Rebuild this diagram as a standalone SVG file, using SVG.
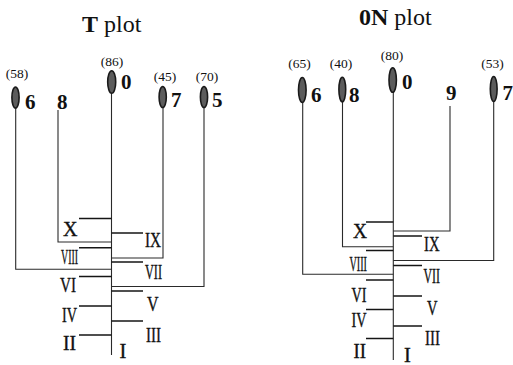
<svg xmlns="http://www.w3.org/2000/svg" width="513" height="365" viewBox="0 0 513 365">
<defs>
<style>
.bg{fill:#ffffff}
.title{font-family:"Liberation Serif","Times New Roman",serif;font-size:24px;fill:#111}
.b{font-weight:bold}
.pct{font-family:"Liberation Serif","Times New Roman",serif;font-size:13.5px;fill:#111;text-anchor:middle}
.num{font-family:"Liberation Serif","Times New Roman",serif;font-size:21px;font-weight:bold;fill:#111}
.rom{font-family:"Liberation Serif","Times New Roman",serif;font-size:20.5px;fill:#111;stroke:#111;stroke-width:0.35}
.dot{fill:#5c5c5c;stroke:#1a1a1a;stroke-width:1.6}
.con{fill:none;stroke:#2a2a2a;stroke-width:1.1}
.tick{fill:none;stroke:#151515;stroke-width:1.5}
</style>
</defs>
<rect class="bg" x="0" y="0" width="513" height="365"/>

<!-- titles -->
<text class="title" x="82" y="32"><tspan class="b">T</tspan> plot</text>
<text class="title" x="359" y="25"><tspan class="b">0N</tspan> plot</text>

<!-- connectors -->
<g id="connectors">
  <!-- left plot -->
  <path class="con" d="M111.5,93 V355"/>
  <path class="con" d="M15.7,108 V269.3 H111.5"/>
  <path class="con" d="M58,110 V242 H111.5"/>
  <path class="con" d="M163,107.5 V258 H111.5"/>
  <path class="con" d="M204,107.5 V286.5 H111.5"/>
  <!-- right plot -->
  <path class="con" d="M393.3,92 V360"/>
  <path class="con" d="M302.7,103 V274.3 H393.3"/>
  <path class="con" d="M342.5,102 V246.7 H393.3"/>
  <path class="con" d="M450,106 V231 H393.3"/>
  <path class="con" d="M493.7,102 V260.5 H393.3"/>
</g>

<!-- left plot nodes -->
<g id="T-6">
  <text class="pct" x="17" y="78">(58)</text>
  <ellipse class="dot" cx="15.5" cy="97.5" rx="3.6" ry="10.5"/>
  <text class="num" x="25" y="109">6</text>
</g>
<g id="T-8">
  <text class="num" x="57" y="109">8</text>
</g>
<g id="T-0">
  <text class="pct" x="112" y="66">(86)</text>
  <ellipse class="dot" cx="111.7" cy="82" rx="4" ry="11.3"/>
  <text class="num" x="121" y="89">0</text>
</g>
<g id="T-7">
  <text class="pct" x="165" y="81">(45)</text>
  <ellipse class="dot" cx="162.7" cy="97" rx="3.6" ry="10.5"/>
  <text class="num" x="171" y="106.5">7</text>
</g>
<g id="T-5">
  <text class="pct" x="207" y="81">(70)</text>
  <ellipse class="dot" cx="204" cy="97" rx="3.6" ry="10.5"/>
  <text class="num" x="212" y="106.5">5</text>
</g>

<!-- left plot roman ticks -->
<g id="T-X"><path class="tick" d="M79,218.5 H111.5"/><text class="rom" x="63" y="236" textLength="14.5" lengthAdjust="spacingAndGlyphs">X</text></g>
<g id="T-IX"><path class="tick" d="M111.5,233 H143"/><text class="rom" x="145" y="247" textLength="16" lengthAdjust="spacingAndGlyphs">IX</text></g>
<g id="T-VIII"><path class="tick" d="M79,247.7 H111.5"/><text class="rom" x="61" y="264" textLength="17" lengthAdjust="spacingAndGlyphs">VIII</text></g>
<g id="T-VII"><path class="tick" d="M111.5,262 H143"/><text class="rom" x="145" y="279" textLength="17" lengthAdjust="spacingAndGlyphs">VII</text></g>
<g id="T-VI"><path class="tick" d="M79,276.5 H111.5"/><text class="rom" x="60" y="292" textLength="16" lengthAdjust="spacingAndGlyphs">VI</text></g>
<g id="T-V"><path class="tick" d="M111.5,291 H143"/><text class="rom" x="147" y="311" textLength="11.5" lengthAdjust="spacingAndGlyphs">V</text></g>
<g id="T-IV"><path class="tick" d="M79,306 H111.5"/><text class="rom" x="62" y="322" textLength="15" lengthAdjust="spacingAndGlyphs">IV</text></g>
<g id="T-III"><path class="tick" d="M111.5,321 H143"/><text class="rom" x="146" y="342" textLength="15" lengthAdjust="spacingAndGlyphs">III</text></g>
<g id="T-II"><path class="tick" d="M79,335 H111.5"/><text class="rom" x="63" y="350" textLength="13" lengthAdjust="spacingAndGlyphs">II</text></g>
<g id="T-I"><text class="rom" x="119.5" y="358">I</text></g>

<!-- right plot nodes -->
<g id="N-6">
  <text class="pct" x="299.5" y="68">(65)</text>
  <ellipse class="dot" cx="302.3" cy="90" rx="3.8" ry="12.5"/>
  <text class="num" x="311" y="102">6</text>
</g>
<g id="N-8">
  <text class="pct" x="341" y="68">(40)</text>
  <ellipse class="dot" cx="342.3" cy="89.5" rx="3.4" ry="12.3"/>
  <text class="num" x="349" y="102">8</text>
</g>
<g id="N-0">
  <text class="pct" x="392" y="60">(80)</text>
  <ellipse class="dot" cx="392.7" cy="80" rx="3.7" ry="12.3"/>
  <text class="num" x="402" y="89">0</text>
</g>
<g id="N-9">
  <text class="num" x="446" y="100">9</text>
</g>
<g id="N-7">
  <text class="pct" x="492.5" y="68">(53)</text>
  <ellipse class="dot" cx="493.7" cy="89" rx="3.4" ry="12.5"/>
  <text class="num" x="502.5" y="100">7</text>
</g>

<!-- right plot roman ticks -->
<g id="N-X"><path class="tick" d="M366,222 H393.3"/><text class="rom" x="353" y="237.5" textLength="14" lengthAdjust="spacingAndGlyphs">X</text></g>
<g id="N-IX"><path class="tick" d="M393.3,236 H422"/><text class="rom" x="424" y="250.5" textLength="15.5" lengthAdjust="spacingAndGlyphs">IX</text></g>
<g id="N-VIII"><path class="tick" d="M366,250.5 H393.3"/><text class="rom" x="349.5" y="270.5" textLength="17.5" lengthAdjust="spacingAndGlyphs">VIII</text></g>
<g id="N-VII"><path class="tick" d="M393.3,265.5 H422"/><text class="rom" x="423.5" y="283" textLength="16.5" lengthAdjust="spacingAndGlyphs">VII</text></g>
<g id="N-VI"><path class="tick" d="M366,280 H393.3"/><text class="rom" x="351.5" y="301.5" textLength="15" lengthAdjust="spacingAndGlyphs">VI</text></g>
<g id="N-V"><path class="tick" d="M393.3,296 H422"/><text class="rom" x="427" y="315" textLength="10.5" lengthAdjust="spacingAndGlyphs">V</text></g>
<g id="N-IV"><path class="tick" d="M366,309.5 H393.3"/><text class="rom" x="351.5" y="327" textLength="15" lengthAdjust="spacingAndGlyphs">IV</text></g>
<g id="N-III"><path class="tick" d="M393.3,326 H422"/><text class="rom" x="425" y="344.5" textLength="15" lengthAdjust="spacingAndGlyphs">III</text></g>
<g id="N-II"><path class="tick" d="M366,338.5 H393.3"/><text class="rom" x="353.5" y="358" textLength="12.5" lengthAdjust="spacingAndGlyphs">II</text></g>
<g id="N-I"><text class="rom" x="404" y="361.5">I</text></g>
</svg>
